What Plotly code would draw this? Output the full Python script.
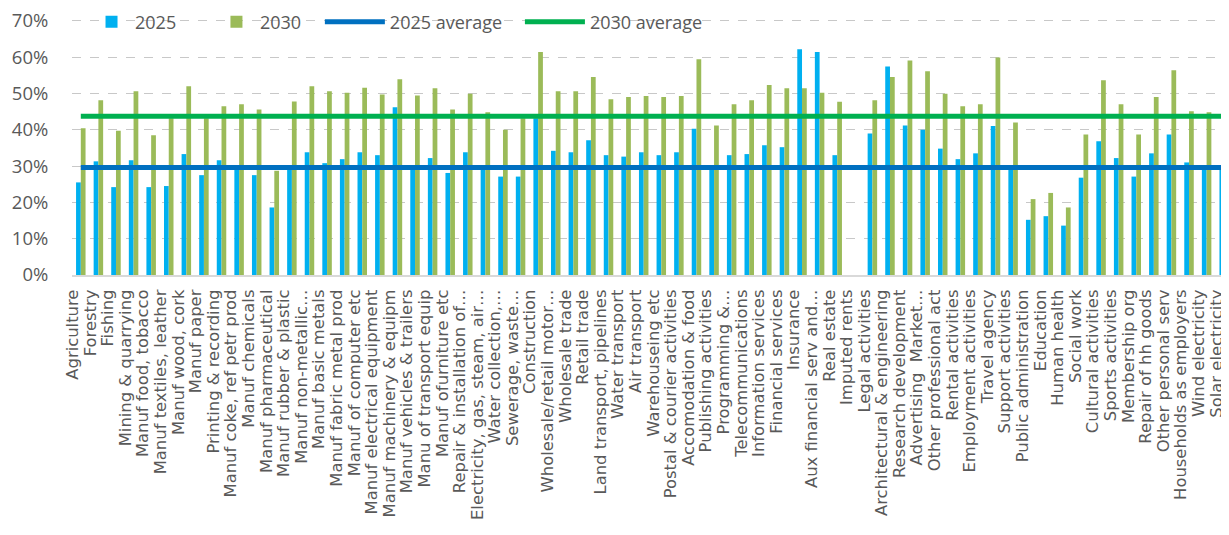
import plotly.graph_objects as go

categories = [
    "Agriculture", "Forestry", "Fishing", "Mining & quarrying", "Manuf food, tobacco",
    "Manuf textiles, leather", "Manuf wood, cork", "Manuf paper", "Printing & recording",
    "Manuf coke, ref petr prod", "Manuf chemicals", "Manuf pharmaceutical",
    "Manuf rubber & plastic", "Manuf non-metallic…", "Manuf basic metals",
    "Manuf fabric metal prod", "Manuf of computer etc", "Manuf electrical equipment",
    "Manuf machinery & equipm", "Manuf vehicles & trailers", "Manu of transport equip",
    "Manuf ofurniture etc", "Repair & installation of…", "Electricity, gas, steam, air…",
    "Water collection,…", "Sewerage, waste…", "Construction", "Wholesale/retail motor…",
    "Wholesale trade", "Retail trade", "Land transport, pipelines", "Water transport",
    "Air transport", "Warehouseing etc", "Postal & courier activities", "Accomodation & food",
    "Publishing activities", "Programming &…", "Telecommunications", "Information services",
    "Financial services", "Insurance", "Aux financial serv and…", "Real estate",
    "Imputed rents", "Legal activities", "Architectural & engineering", "Research development",
    "Advertising  Market…", "Other professional act", "Rental activities",
    "Employment activities", "Travel agency", "Support activities", "Public administration",
    "Education", "Human health", "Social work", "Cultural activities", "Sports activities",
    "Membership org", "Repair of hh goods", "Other personal serv", "Households as employers",
    "Wind electricity", "Solar electricity",
]

values_2025 = [
    25.5, 31.3, 24.2, 31.6, 24.2, 24.5, 33.3, 27.5, 31.6, 29.3, 27.5, 18.6, 29.4, 33.8,
    30.8, 31.9, 33.8, 33.0, 46.2, 29.4, 32.2, 28.1, 33.8, 29.3, 27.1, 27.1, 43.2, 34.2,
    33.8, 37.1, 33.0, 32.6, 33.8, 33.0, 33.8, 40.3, 29.4, 33.0, 33.3, 35.7, 35.2, 62.2,
    61.4, 33.0, None, 39.0, 57.4, 41.2, 40.0, 34.8, 31.9, 33.5, 41.0, 29.4, 15.2, 16.2,
    13.6, 26.8, 36.8, 32.2, 27.1, 33.5, 38.7, 31.0, 29.4, 29.3,
]

values_2030 = [
    40.4, 48.1, 39.7, 50.6, 38.5, 43.2, 52.0, 43.2, 46.5, 47.0, 45.6, 28.7, 47.8, 52.0,
    50.6, 50.2, 51.6, 49.7, 53.9, 49.4, 51.4, 45.6, 49.9, 44.8, 40.0, 43.2, 61.4, 50.6,
    50.6, 54.5, 48.4, 49.0, 49.3, 49.0, 49.3, 59.4, 41.2, 47.0, 48.1, 52.3, 51.4, 51.4,
    50.2, 47.7, None, 48.1, 54.5, 59.1, 56.1, 49.9, 46.5, 47.0, 59.9, 42.0, 20.9, 22.6,
    18.6, 38.7, 53.6, 47.0, 38.7, 49.0, 56.4, 45.1, 44.8, 44.8,
]

avg_2025 = 29.6
avg_2030 = 43.7

y_ticks = [0, 10, 20, 30, 40, 50, 60, 70]
y_tick_labels = ["0%", "10%", "20%", "30%", "40%", "50%", "60%", "70%"]

fig = go.Figure()
fig.add_trace(go.Bar(
    x=categories, y=values_2025, name="2025", legend="legend",
    marker=dict(color="#00B0F0", line=dict(width=0)),
))
fig.add_trace(go.Bar(
    x=categories, y=values_2030, name="2030", legend="legend2",
    marker=dict(color="#9BBB59", line=dict(width=0)),
))
fig.add_trace(go.Scatter(
    x=categories, y=[avg_2025] * len(categories), name="2025 average", legend="legend3",
    mode="lines", line=dict(color="#0070C0", width=5),
))
fig.add_trace(go.Scatter(
    x=categories, y=[avg_2030] * len(categories), name="2030 average", legend="legend4",
    mode="lines", line=dict(color="#00B050", width=5),
))

leg_common = dict(
    orientation="h", y=1.06, xanchor="left", yanchor="top",
    bgcolor="rgba(0,0,0,0)", font=dict(size=18, color="#595959"),
)

fig.update_layout(
    width=1229, height=535,
    margin=dict(l=64, r=4, t=11, b=268, autoexpand=False),
    paper_bgcolor="white", plot_bgcolor="white",
    barmode="group", bargap=0.46, bargroupgap=0,
    font=dict(family="Open Sans, sans-serif", color="#595959"),
    legend=dict(x=0.0138, itemwidth=37, **leg_common),
    legend2=dict(x=0.1214, itemwidth=37, **leg_common),
    legend3=dict(x=0.2135, itemwidth=60, **leg_common),
    legend4=dict(x=0.3858, itemwidth=60, **leg_common),
    showlegend=True,
)
fig.update_yaxes(
    range=[0, 70.5], tickvals=y_ticks, ticktext=y_tick_labels,
    tickfont=dict(size=18.5, color="#595959"),
    showgrid=True, gridcolor="#C8C8C8", griddash="dash", gridwidth=1.2,
    zeroline=False, showline=False,
    ticks="outside", ticklen=19, tickcolor="rgba(0,0,0,0)",
    ticklabeloverflow="allow", automargin=False,
)
fig.update_xaxes(
    type="category", tickmode="array", tickvals=categories, ticktext=categories,
    tickangle=-90,
    tickfont=dict(size=16.4, color="#595959", family="DejaVu Sans, sans-serif"),
    showline=True, linecolor="#D9D9D9", linewidth=2,
    showgrid=False, ticks="", automargin=False,
    ticklabelstandoff=6, ticklabelshift=-8,
)

fig.write_html("out.html")
